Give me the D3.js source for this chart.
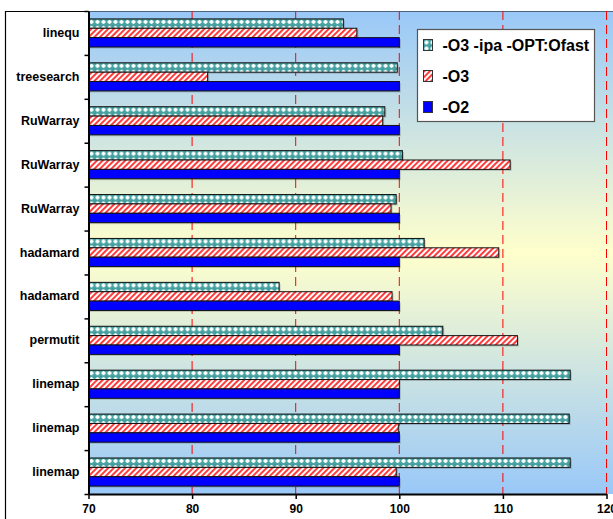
<!DOCTYPE html>
<html>
<head>
<meta charset="utf-8">
<script src="https://cdn.jsdelivr.net/npm/d3@7"></script>
<style>
  body { margin: 0; background: #fff; }
  text { font-family: Arial, "Liberation Sans", sans-serif; font-weight: bold; }
</style>
</head>
<body>
<div id="chart-area"></div>
<script>
// categories top -> bottom
const categories = ['linequ', 'treesearch', 'RuWarray', 'RuWarray', 'RuWarray',
    'hadamard', 'hadamard', 'permutit', 'linemap', 'linemap', 'linemap'];
const seriesNames = ['-O3 -ipa -OPT:Ofast', '-O3', '-O2'];
const ofastValues = [94.6, 99.8, 98.6, 100.3, 99.7, 102.4, 88.4, 104.2, 116.5, 116.4, 116.5];
const o3Values = [95.9, 81.5, 98.4, 110.7, 99.2, 109.6, 99.3, 111.4, 100.0, 99.9, 99.7];
const o2Values = [100, 100, 100, 100, 100, 100, 100, 100, 100, 100, 100];
const xTicks = [70, 80, 90, 100, 110, 120];

const W = 613, H = 519;
const margin = {left: 88.5, top: 11, right: 6.5, bottom: 25};
const width = W - margin.left - margin.right,
    height = H - margin.top - margin.bottom;

const svg = d3.select('#chart-area')
    .append('svg')
    .attr('width', W)
    .attr('height', H);

const defs = svg.append('defs');

const grad = defs.append('linearGradient')
    .attr('id', 'bg').attr('x1', 0).attr('y1', 0).attr('x2', 0).attr('y2', 1);
grad.append('stop').attr('offset', '0%').attr('stop-color', '#99c8f8');
grad.append('stop').attr('offset', '50%').attr('stop-color', '#ffffcc');
grad.append('stop').attr('offset', '100%').attr('stop-color', '#99c8f8');

// diagonal red stripes
const stripe = defs.append('pattern')
    .attr('id', 'stripes').attr('patternUnits', 'userSpaceOnUse')
    .attr('width', 4).attr('height', 4)
    .attr('patternTransform', 'rotate(45)');
stripe.append('rect').attr('width', 4).attr('height', 4).attr('fill', '#ffffff');
stripe.append('rect').attr('width', 2).attr('height', 4).attr('fill', '#ff3b3b');

// teal cross-hatch
const cross = defs.append('pattern')
    .attr('id', 'cross').attr('patternUnits', 'userSpaceOnUse')
    .attr('width', 6).attr('height', 6);
cross.append('rect').attr('width', 6).attr('height', 6).attr('fill', '#4aa3a3');
cross.append('rect').attr('x', 1).attr('y', 2).attr('width', 4).attr('height', 2).attr('fill', '#ffffff');
cross.append('rect').attr('x', 2).attr('y', 1).attr('width', 2).attr('height', 4).attr('fill', '#ffffff');
cross.append('rect').attr('x', 0).attr('y', 0).attr('width', 1).attr('height', 1).attr('fill', '#2f8a8a');

const seriesFill = {
    '-O3 -ipa -OPT:Ofast': 'url(#cross)',
    '-O3': 'url(#stripes)',
    '-O2': '#0000ff'
};

// outer chart border (left and top visible)
svg.append('path')
    .attr('d', 'M5.5,' + H + 'V11.5H' + W)
    .attr('fill', 'none')
    .attr('stroke', '#000')
    .attr('stroke-width', 1.2);

const g = svg.append('g')
    .attr('transform', 'translate(' + margin.left + ', ' + margin.top + ')');

g.append('rect')
    .attr('x', 0).attr('y', 0.5)
    .attr('width', W - margin.left)
    .attr('height', height - 0.5)
    .attr('fill', 'url(#bg)');

const xScale = d3.scaleLinear()
    .domain([70, 120])
    .range([0, width]);

const yScale = d3.scaleBand()
    .domain(d3.range(categories.length))
    .range([0, height])
    .paddingInner(0.36)
    .paddingOuter(0.18);

const ySub = d3.scaleBand()
    .domain(seriesNames)
    .range([0, yScale.bandwidth()]);

// grid lines
g.selectAll('.grid')
    .data(xTicks.slice(1))
    .enter()
    .append('line')
    .attr('x1', d => xScale(d)).attr('x2', d => xScale(d))
    .attr('y1', 0).attr('y2', height)
    .attr('stroke', '#ff0000')
    .attr('stroke-width', 1)
    .attr('stroke-dasharray', '9,5');

const rows = categories.map((c, i) => ({
    i: i,
    values: [
        {key: seriesNames[0], value: ofastValues[i]},
        {key: seriesNames[1], value: o3Values[i]},
        {key: seriesNames[2], value: o2Values[i]}
    ]
}));

const groups = g.selectAll('.cat')
    .data(rows)
    .enter()
    .append('g')
    .attr('transform', d => 'translate(0, ' + yScale(d.i) + ')');

// soft shadow
groups.selectAll('.shadow')
    .data(d => d.values)
    .enter()
    .append('rect')
    .attr('x', 1.5)
    .attr('y', d => ySub(d.key) + 1.5)
    .attr('width', d => xScale(d.value) - xScale(70))
    .attr('height', ySub.bandwidth())
    .attr('fill', 'rgba(0,0,0,0.18)');

groups.selectAll('.bar')
    .data(d => d.values)
    .enter()
    .append('rect')
    .attr('x', xScale(70))
    .attr('y', d => ySub(d.key))
    .attr('width', d => xScale(d.value) - xScale(70))
    .attr('height', ySub.bandwidth())
    .attr('fill', d => seriesFill[d.key])
    .attr('stroke', '#111')
    .attr('stroke-width', 1);

// y axis: labels at centers, ticks at boundaries
const yAxisCall = d3.axisLeft(yScale)
    .tickSize(0)
    .tickPadding(9)
    .tickFormat(i => categories[i]);

const yAxis = g.append('g').call(yAxisCall);
yAxis.select('.domain').remove();
yAxis.selectAll('text').attr('font-size', '12.5px').attr('fill', '#000');

const yLin = d3.scaleLinear().domain([0, categories.length]).range([0, height]);
const yTickAxis = g.append('g')
    .call(d3.axisLeft(yLin).tickValues(d3.range(categories.length + 1)).tickFormat('').tickSize(4).tickSizeOuter(0));
yTickAxis.selectAll('line').attr('stroke-width', 1.5);
yTickAxis.select('.domain').attr('stroke-width', 2);

const xAxisCall = d3.axisBottom(xScale)
    .tickValues(xTicks)
    .tickSize(5)
    .tickSizeOuter(0)
    .tickPadding(5);

const xAxis = g.append('g')
    .attr('transform', 'translate(0, ' + height + ')')
    .call(xAxisCall);
xAxis.select('.domain').attr('stroke-width', 2);
xAxis.selectAll('line').attr('stroke-width', 1.5);
xAxis.selectAll('text').attr('font-size', '12px').attr('fill', '#000');

// legend
const legend = svg.append('g')
    .attr('transform', 'translate(417.5, 29.5)');

legend.append('rect')
    .attr('width', 177)
    .attr('height', 92)
    .attr('fill', '#fff')
    .attr('stroke', '#555')
    .attr('stroke-width', 1.2);

seriesNames.forEach((name, i) => {
    const legendRow = legend.append('g')
        .attr('transform', 'translate(6, ' + (10 + i * 31) + ')');

    legendRow.append('rect')
        .attr('width', 9)
        .attr('height', 11)
        .attr('fill', seriesFill[name])
        .attr('stroke', '#333');

    legendRow.append('text')
        .attr('x', 19)
        .attr('y', 11)
        .attr('font-size', '16px')
        .text(name);
});
</script>
</body>
</html>
